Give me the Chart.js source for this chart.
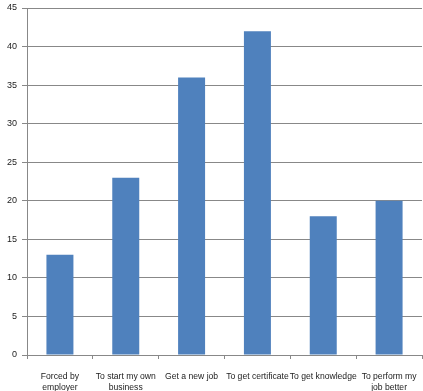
<!DOCTYPE html>
<html>
<head>
<meta charset="utf-8">
<script src="https://cdn.jsdelivr.net/npm/chart.js@4"></script>
<style>
  html, body { margin: 0; padding: 0; background: #fff; overflow: hidden; }
  canvas { display: block; }
</style>
</head>
<body>
<canvas id="myChart" width="423" height="391"></canvas>
<script>
const labels = [
  ['Forced by', 'employer'],
  ['To start my own', 'business'],
  'Get a new job',
  'To get certificate',
  'To get knowledge',
  ['To perform my', 'job better'],
];
const data = [13, 23, 36, 42, 18, 20];
const yTicks = [0, 5, 10, 15, 20, 25, 30, 35, 40, 45];

const ctx = document.getElementById('myChart');

new Chart(ctx, {
  type: 'bar',
  data: {
    labels,
    datasets: [
      {
        data,
        backgroundColor: '#4F81BD',
        borderWidth: 0,
        barPercentage: 0.41,
        categoryPercentage: 1,
      },
    ],
  },
  options: {
    responsive: false,
    animation: false,
    layout: { padding: { top: 8, left: 2, right: 1, bottom: 0 } },
    plugins: {
      legend: { display: false },
      tooltip: { enabled: false },
    },
    scales: {
      x: {
        afterFit: (scale) => {
          scale.height = 36;
          scale.paddingLeft = 0;
          scale.paddingRight = 0;
        },
        grid: {
          offset: true,
          drawOnChartArea: false,
          color: '#888888',
          tickLength: 4,
        },
        border: { color: '#888888' },
        ticks: {
          color: '#222',
          font: { family: 'Liberation Sans', size: 8.6, lineHeight: 1.25 },
          padding: 12,
          maxRotation: 0,
          autoSkip: false,
        },
      },
      y: {
        min: 0,
        max: 45,
        afterBuildTicks: (axis) => {
          axis.ticks = yTicks.map((v) => ({ value: v }));
        },
        afterFit: (scale) => {
          scale.paddingTop = 0;
          scale.paddingBottom = 0;
        },
        grid: {
          color: '#888888',
          tickLength: 5,
        },
        border: { color: '#888888' },
        ticks: {
          color: '#222',
          font: { family: 'Liberation Sans', size: 9 },
          padding: 5,
        },
      },
    },
  },
});
</script>
</body>
</html>
